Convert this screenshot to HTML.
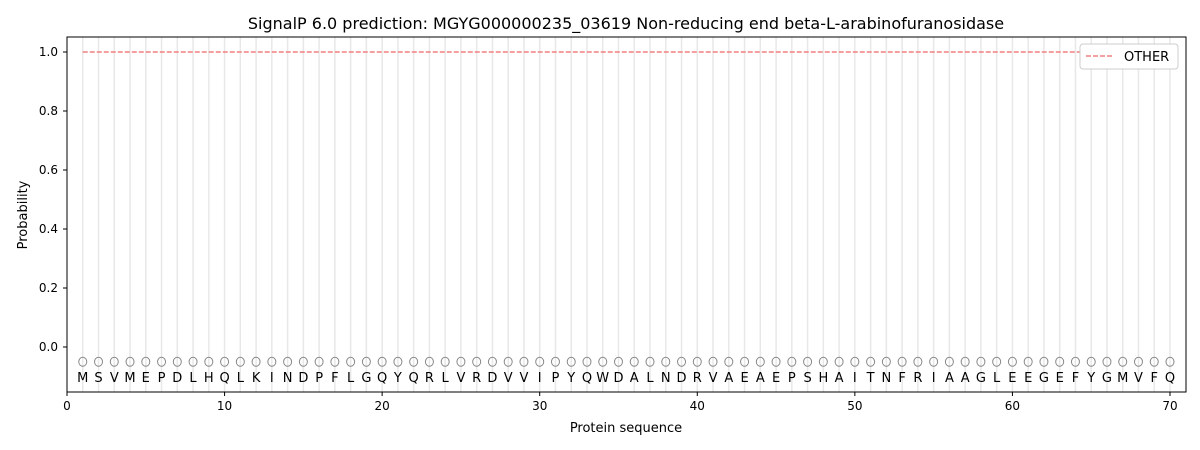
<!DOCTYPE html>
<html><head><meta charset="utf-8"><style>body{margin:0;background:#fff}svg{display:block}text{font-family:"DejaVu Sans","Liberation Sans",sans-serif}</style></head>
<body>
<svg id="s" width="1200" height="450" xmlns="http://www.w3.org/2000/svg">
<rect width="1200" height="450" fill="#fff"/>
<g id="g"></g>
<text x="626" y="29" font-size="16" text-anchor="middle">SignalP 6.0 prediction: MGYG000000235_03619 Non-reducing end beta-L-arabinofuranosidase</text>
<text x="626" y="432" font-size="13" text-anchor="middle">Protein sequence</text>
<text x="27" y="215" font-size="13" text-anchor="middle" transform="rotate(-90 27 215)">Probability</text>
<rect x="67" y="37" width="1119" height="355" fill="none" stroke="#000" stroke-width="1"/>
<g>
<rect x="1080" y="44" width="98" height="25" rx="3" fill="#fff" stroke="#ccc"/>
<line x1="1086" y1="56" x2="1114" y2="56" stroke="#f08080" stroke-width="1.5" stroke-dasharray="5,2"/>
<text x="1124" y="61" font-size="13">OTHER</text>
</g>
</svg>
<script>
const seq="MSVMEPDLHQLKINDPFLGQYQRLVRDVVIPYQWDALNDRVAEAEPSHAITNFRIAAGLEEGEFYGMVFQ";
const X=v=>67+v*15.757, Y=v=>347-v*295;
let h="";
for(let i=1;i<=70;i++){const x=X(i);
h+=`<line x1="${x}" y1="37" x2="${x}" y2="392" stroke="#e8e8e8" stroke-width="1.5"/>`;
h+=`<ellipse cx="${x}" cy="${Y(-0.05)}" rx="4" ry="4.5" fill="none" stroke="#888"/>`;
h+=`<text x="${x}" y="382" font-size="13" text-anchor="middle">${seq[i-1]}</text>`;}
h+=`<line x1="${X(1)}" y1="${Y(1)}" x2="${X(70)}" y2="${Y(1)}" stroke="#f08080" stroke-width="1.5" stroke-dasharray="5,2"/>`;
for(let t=0;t<=70;t+=10){const x=X(t);h+=`<line x1="${x}" y1="392" x2="${x}" y2="396" stroke="#000"/><text x="${x}" y="410" font-size="12" text-anchor="middle">${t}</text>`;}
for(let k=0;k<=5;k++){const v=k*0.2,y=Y(v);h+=`<line x1="63" y1="${y}" x2="67" y2="${y}" stroke="#000"/><text x="58" y="${y+4}" font-size="12" text-anchor="end">${v.toFixed(1)}</text>`;}
h+=`<line x1="63" y1="${Y(0)}" x2="67" y2="${Y(0)}" stroke="#000"/>`;
document.getElementById("g").innerHTML=h;
</script>
</body></html>
